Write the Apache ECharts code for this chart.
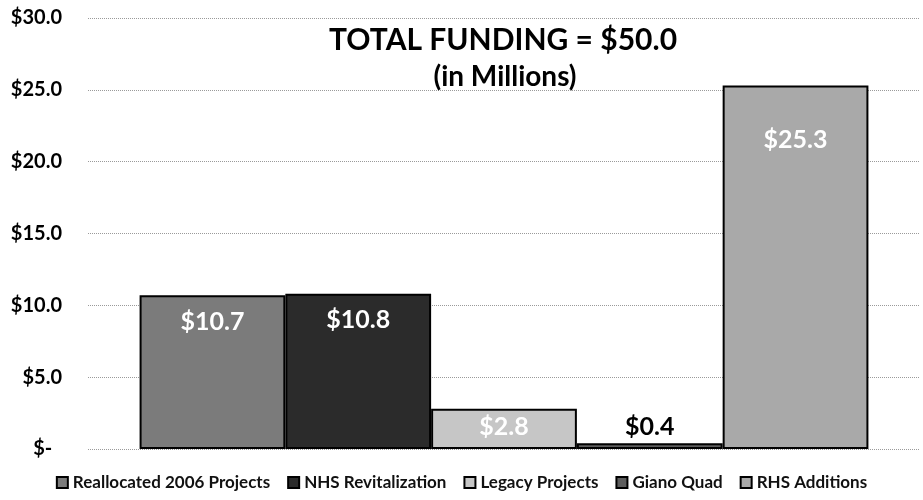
<!DOCTYPE html>
<html>
<head>
<meta charset="utf-8">
<script src="https://cdn.jsdelivr.net/npm/echarts@6/dist/echarts.min.js"></script>
<style>
  html, body { margin: 0; padding: 0; background: #fff; }
  #box { width: 923px; height: 500px; }
</style>
</head>
<body>
<div id="box"></div>
<script>
// funding by project, in millions
const projects = ["Reallocated 2006 Projects", "NHS Revitalization", "Legacy Projects", "Giano Quad", "RHS Additions"];
const funding = [10.7, 10.8, 2.8, 0.4, 25.3];
const yTicks = [0, 5, 10, 15, 20, 25, 30];

const fills = ["#7b7b7b", "#2b2b2b", "#c6c6c6", "#5e5e5e", "#a9a9a9"];
const labelDist = [14, 14, 6, 4, 42]; // hand tuned to match the original label spots

var myChart = echarts.init(document.getElementById("box"));
const font = "Lato, 'Open Sans', sans-serif";

myChart.setOption({
  animation: false,
  title: [
    {
      text: "TOTAL FUNDING = $50.0",
      left: 498,
      top: 20,
      textAlign: "center",
      textStyle: { fontFamily: font, fontSize: 30, fontWeight: "bold", color: "#000" },
    },
    {
      text: "(in Millions)",
      left: 500,
      top: 58,
      textAlign: "center",
      textStyle: { fontFamily: font, fontSize: 28, fontWeight: "bold", color: "#000" },
    },
  ],
  legend: {
    bottom: 4,
    left: "center",
    itemWidth: 11,
    itemHeight: 11,
    itemGap: 17,
    icon: "rect",
    textStyle: { fontFamily: font, fontSize: 17, fontWeight: "bold", color: "#111" },
    data: projects,
  },
  grid: { left: 88, right: 3, top: 18, bottom: 51 },
  xAxis: {
    type: "category",
    data: ["Funding"],
    axisLine: { show: false },
    axisTick: { show: false },
    axisLabel: { show: false },
  },
  yAxis: {
    type: "value",
    min: yTicks[0],
    max: yTicks[yTicks.length - 1],
    interval: 5,
    axisLine: { show: false },
    axisTick: { show: false },
    splitLine: { lineStyle: { color: "#9a9a9a", type: "dotted", width: 1 } },
    axisLabel: {
      margin: 26,
      fontFamily: font,
      fontSize: 20,
      fontWeight: "bold",
      color: "#000",
      formatter: function (v) {
        return v === 0 ? "$-  " : "$" + v.toFixed(1);
      },
    },
  },
  series: projects.map(function (name, i) {
    const onTop = funding[i] < 1;
    return {
      name: name,
      type: "bar",
      barGap: "0%",
      barCategoryGap: "12.4%",
      data: [funding[i]],
      itemStyle: { color: fills[i], borderColor: "#000", borderWidth: 2 },
      label: {
        show: true,
        position: onTop ? "top" : "insideTop",
        distance: labelDist[i],
        fontFamily: font,
        fontSize: 25,
        fontWeight: "bold",
        color: onTop ? "#000" : "#fff",
        formatter: function (p) {
          return "$" + p.value.toFixed(1);
        },
      },
    };
  }),
});
</script>
</body>
</html>
